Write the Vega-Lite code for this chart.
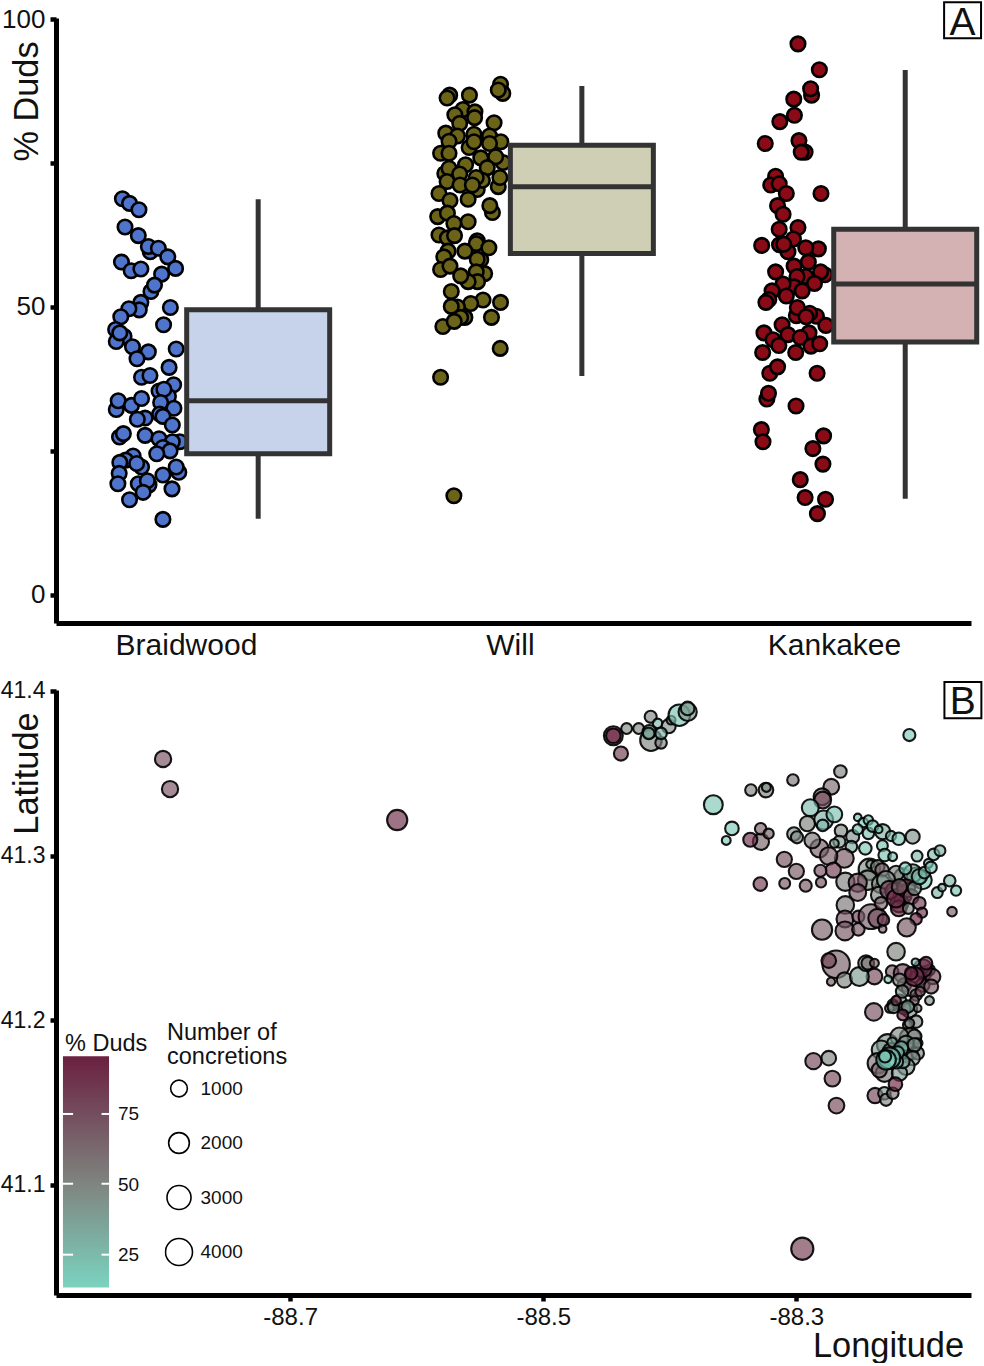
{
"$schema":"https://vega.github.io/schema/vega-lite/v6.json",
"padding":{"left":0,"top":1,"right":0,"bottom":0},
"background":"white",
"config":{"font":"Liberation Sans","view":{"stroke":null},
"axis":{"grid":false,"domainColor":"black","domainWidth":5,"tickColor":"black","tickWidth":4.5,"tickSize":6,"labelColor":"#111","titleColor":"#111","titleFontWeight":"normal","labelOverlap":false,"labelBound":false,"labelFlush":false}},
"datasets":{
"duds":[
{"site":"Braidwood","pos":0.807,"duds":68.8},{"site":"Braidwood","pos":0.829,"duds":68.0},{"site":"Braidwood","pos":0.858,"duds":66.9},{"site":"Braidwood","pos":0.815,"duds":63.9},{"site":"Braidwood","pos":0.856,"duds":62.4},{"site":"Braidwood","pos":0.893,"duds":59.6},{"site":"Braidwood","pos":0.887,"duds":60.5},{"site":"Braidwood","pos":0.918,"duds":60.2},{"site":"Braidwood","pos":0.947,"duds":58.7},{"site":"Braidwood","pos":0.804,"duds":57.8},{"site":"Braidwood","pos":0.834,"duds":56.3},{"site":"Braidwood","pos":0.864,"duds":56.6},{"site":"Braidwood","pos":0.971,"duds":56.7},{"site":"Braidwood","pos":0.928,"duds":55.7},{"site":"Braidwood","pos":0.895,"duds":52.7},{"site":"Braidwood","pos":0.906,"duds":53.8},{"site":"Braidwood","pos":0.864,"duds":50.8},{"site":"Braidwood","pos":0.859,"duds":49.5},{"site":"Braidwood","pos":0.827,"duds":49.7},{"site":"Braidwood","pos":0.955,"duds":49.9},{"site":"Braidwood","pos":0.802,"duds":48.3},{"site":"Braidwood","pos":0.934,"duds":46.9},{"site":"Braidwood","pos":0.786,"duds":46.1},{"site":"Braidwood","pos":0.812,"duds":44.9},{"site":"Braidwood","pos":0.788,"duds":44.0},{"site":"Braidwood","pos":0.799,"duds":45.5},{"site":"Braidwood","pos":0.838,"duds":43.1},{"site":"Braidwood","pos":0.887,"duds":42.2},{"site":"Braidwood","pos":0.973,"duds":42.7},{"site":"Braidwood","pos":0.852,"duds":41.0},{"site":"Braidwood","pos":0.951,"duds":39.5},{"site":"Braidwood","pos":0.866,"duds":37.8},{"site":"Braidwood","pos":0.892,"duds":38.1},{"site":"Braidwood","pos":0.965,"duds":36.5},{"site":"Braidwood","pos":0.920,"duds":35.4},{"site":"Braidwood","pos":0.949,"duds":34.5},{"site":"Braidwood","pos":0.935,"duds":35.7},{"site":"Braidwood","pos":0.788,"duds":32.2},{"site":"Braidwood","pos":0.794,"duds":33.7},{"site":"Braidwood","pos":0.835,"duds":32.9},{"site":"Braidwood","pos":0.866,"duds":34.1},{"site":"Braidwood","pos":0.925,"duds":33.4},{"site":"Braidwood","pos":0.966,"duds":32.4},{"site":"Braidwood","pos":0.922,"duds":31.4},{"site":"Braidwood","pos":0.932,"duds":31.0},{"site":"Braidwood","pos":0.877,"duds":30.7},{"site":"Braidwood","pos":0.853,"duds":30.5},{"site":"Braidwood","pos":0.961,"duds":29.5},{"site":"Braidwood","pos":0.798,"duds":27.4},{"site":"Braidwood","pos":0.810,"duds":28.0},{"site":"Braidwood","pos":0.877,"duds":27.7},{"site":"Braidwood","pos":0.920,"duds":27.1},{"site":"Braidwood","pos":0.984,"duds":26.6},{"site":"Braidwood","pos":0.961,"duds":26.6},{"site":"Braidwood","pos":0.932,"duds":25.6},{"site":"Braidwood","pos":0.954,"duds":25.0},{"site":"Braidwood","pos":0.913,"duds":24.5},{"site":"Braidwood","pos":0.840,"duds":24.1},{"site":"Braidwood","pos":0.817,"duds":23.4},{"site":"Braidwood","pos":0.866,"duds":22.2},{"site":"Braidwood","pos":0.799,"duds":23.0},{"site":"Braidwood","pos":0.851,"duds":22.8},{"site":"Braidwood","pos":0.797,"duds":21.1},{"site":"Braidwood","pos":0.932,"duds":20.8},{"site":"Braidwood","pos":0.981,"duds":21.3},{"site":"Braidwood","pos":0.973,"duds":22.2},{"site":"Braidwood","pos":0.793,"duds":19.3},{"site":"Braidwood","pos":0.856,"duds":19.3},{"site":"Braidwood","pos":0.889,"duds":19.1},{"site":"Braidwood","pos":0.884,"duds":19.8},{"site":"Braidwood","pos":0.871,"duds":17.8},{"site":"Braidwood","pos":0.960,"duds":18.4},{"site":"Braidwood","pos":0.829,"duds":16.5},{"site":"Braidwood","pos":0.932,"duds":13.1},
{"site":"Will","pos":1.974,"duds":88.7},{"site":"Will","pos":1.981,"duds":87.1},{"site":"Will","pos":1.967,"duds":87.7},{"site":"Will","pos":1.817,"duds":86.8},{"site":"Will","pos":1.809,"duds":86.3},{"site":"Will","pos":1.878,"duds":86.8},{"site":"Will","pos":1.858,"duds":84.3},{"site":"Will","pos":1.833,"duds":83.4},{"site":"Will","pos":1.895,"duds":83.9},{"site":"Will","pos":1.894,"duds":82.9},{"site":"Will","pos":1.848,"duds":81.9},{"site":"Will","pos":1.954,"duds":82.0},{"site":"Will","pos":1.805,"duds":80.2},{"site":"Will","pos":1.841,"duds":79.7},{"site":"Will","pos":1.892,"duds":80.0},{"site":"Will","pos":1.940,"duds":79.7},{"site":"Will","pos":1.877,"duds":77.7},{"site":"Will","pos":1.815,"duds":78.8},{"site":"Will","pos":1.892,"duds":78.7},{"site":"Will","pos":1.975,"duds":78.7},{"site":"Will","pos":1.940,"duds":78.4},{"site":"Will","pos":1.789,"duds":76.7},{"site":"Will","pos":1.815,"duds":76.7},{"site":"Will","pos":1.982,"duds":75.1},{"site":"Will","pos":1.913,"duds":75.9},{"site":"Will","pos":1.959,"duds":76.1},{"site":"Will","pos":1.866,"duds":74.7},{"site":"Will","pos":1.933,"duds":74.2},{"site":"Will","pos":1.802,"duds":73.2},{"site":"Will","pos":1.815,"duds":74.1},{"site":"Will","pos":1.848,"duds":73.1},{"site":"Will","pos":1.902,"duds":70.4},{"site":"Will","pos":1.918,"duds":72.0},{"site":"Will","pos":1.899,"duds":72.5},{"site":"Will","pos":1.967,"duds":70.9},{"site":"Will","pos":1.972,"duds":72.5},{"site":"Will","pos":1.809,"duds":71.8},{"site":"Will","pos":1.849,"duds":71.2},{"site":"Will","pos":1.887,"duds":71.2},{"site":"Will","pos":1.784,"duds":69.7},{"site":"Will","pos":1.874,"duds":68.7},{"site":"Will","pos":1.818,"duds":68.5},{"site":"Will","pos":1.949,"duds":66.4},{"site":"Will","pos":1.941,"duds":67.6},{"site":"Will","pos":1.780,"duds":65.7},{"site":"Will","pos":1.810,"duds":66.3},{"site":"Will","pos":1.874,"duds":64.8},{"site":"Will","pos":1.830,"duds":64.5},{"site":"Will","pos":1.784,"duds":62.5},{"site":"Will","pos":1.810,"duds":62.0},{"site":"Will","pos":1.832,"duds":62.4},{"site":"Will","pos":1.902,"duds":61.5},{"site":"Will","pos":1.899,"duds":61.0},{"site":"Will","pos":1.938,"duds":60.3},{"site":"Will","pos":1.812,"duds":59.7},{"site":"Will","pos":1.864,"duds":59.7},{"site":"Will","pos":1.799,"duds":58.7},{"site":"Will","pos":1.913,"duds":58.2},{"site":"Will","pos":1.902,"duds":58.3},{"site":"Will","pos":1.789,"duds":56.5},{"site":"Will","pos":1.818,"duds":57.1},{"site":"Will","pos":1.925,"duds":55.8},{"site":"Will","pos":1.899,"duds":56.1},{"site":"Will","pos":1.903,"duds":54.4},{"site":"Will","pos":1.874,"duds":54.4},{"site":"Will","pos":1.851,"duds":55.4},{"site":"Will","pos":1.822,"duds":52.7},{"site":"Will","pos":1.920,"duds":51.2},{"site":"Will","pos":1.882,"duds":50.6},{"site":"Will","pos":1.974,"duds":50.8},{"site":"Will","pos":1.841,"duds":50.0},{"site":"Will","pos":1.822,"duds":50.1},{"site":"Will","pos":1.864,"duds":48.2},{"site":"Will","pos":1.851,"duds":48.2},{"site":"Will","pos":1.946,"duds":48.2},{"site":"Will","pos":1.796,"duds":46.6},{"site":"Will","pos":1.831,"duds":47.5},{"site":"Will","pos":1.973,"duds":42.8},{"site":"Will","pos":1.789,"duds":37.8},{"site":"Will","pos":1.830,"duds":17.2},
{"site":"Kankakee","pos":2.892,"duds":95.7},{"site":"Kankakee","pos":2.958,"duds":91.2},{"site":"Kankakee","pos":2.934,"duds":86.8},{"site":"Kankakee","pos":2.931,"duds":87.9},{"site":"Kankakee","pos":2.879,"duds":86.1},{"site":"Kankakee","pos":2.881,"duds":83.3},{"site":"Kankakee","pos":2.836,"duds":82.2},{"site":"Kankakee","pos":2.791,"duds":78.4},{"site":"Kankakee","pos":2.895,"duds":78.9},{"site":"Kankakee","pos":2.914,"duds":76.9},{"site":"Kankakee","pos":2.902,"duds":76.9},{"site":"Kankakee","pos":2.823,"duds":72.7},{"site":"Kankakee","pos":2.808,"duds":71.2},{"site":"Kankakee","pos":2.834,"duds":71.4},{"site":"Kankakee","pos":2.856,"duds":69.7},{"site":"Kankakee","pos":2.963,"duds":69.7},{"site":"Kankakee","pos":2.829,"duds":67.6},{"site":"Kankakee","pos":2.846,"duds":66.1},{"site":"Kankakee","pos":2.834,"duds":63.5},{"site":"Kankakee","pos":2.892,"duds":63.8},{"site":"Kankakee","pos":2.878,"duds":61.8},{"site":"Kankakee","pos":2.780,"duds":60.7},{"site":"Kankakee","pos":2.861,"duds":59.6},{"site":"Kankakee","pos":2.835,"duds":60.8},{"site":"Kankakee","pos":2.848,"duds":60.9},{"site":"Kankakee","pos":2.955,"duds":60.1},{"site":"Kankakee","pos":2.916,"duds":60.3},{"site":"Kankakee","pos":2.924,"duds":57.8},{"site":"Kankakee","pos":2.880,"duds":57.1},{"site":"Kankakee","pos":2.823,"duds":56.1},{"site":"Kankakee","pos":2.975,"duds":55.6},{"site":"Kankakee","pos":2.962,"duds":56.1},{"site":"Kankakee","pos":2.916,"duds":55.3},{"site":"Kankakee","pos":2.889,"duds":55.3},{"site":"Kankakee","pos":2.880,"duds":53.5},{"site":"Kankakee","pos":2.846,"duds":54.0},{"site":"Kankakee","pos":2.943,"duds":54.1},{"site":"Kankakee","pos":2.905,"duds":52.8},{"site":"Kankakee","pos":2.812,"duds":52.8},{"site":"Kankakee","pos":2.802,"duds":51.3},{"site":"Kankakee","pos":2.793,"duds":50.8},{"site":"Kankakee","pos":2.856,"duds":51.9},{"site":"Kankakee","pos":2.887,"duds":48.5},{"site":"Kankakee","pos":2.890,"duds":49.9},{"site":"Kankakee","pos":2.949,"duds":48.4},{"site":"Kankakee","pos":2.928,"duds":48.9},{"site":"Kankakee","pos":2.917,"duds":48.3},{"site":"Kankakee","pos":2.978,"duds":46.8},{"site":"Kankakee","pos":2.843,"duds":46.9},{"site":"Kankakee","pos":2.787,"duds":45.5},{"site":"Kankakee","pos":2.815,"duds":44.3},{"site":"Kankakee","pos":2.861,"duds":45.2},{"site":"Kankakee","pos":2.926,"duds":45.5},{"site":"Kankakee","pos":2.899,"duds":44.7},{"site":"Kankakee","pos":2.833,"duds":43.3},{"site":"Kankakee","pos":2.932,"duds":43.2},{"site":"Kankakee","pos":2.959,"duds":43.6},{"site":"Kankakee","pos":2.783,"duds":42.1},{"site":"Kankakee","pos":2.885,"duds":42.1},{"site":"Kankakee","pos":2.805,"duds":38.5},{"site":"Kankakee","pos":2.829,"duds":39.6},{"site":"Kankakee","pos":2.951,"duds":38.5},{"site":"Kankakee","pos":2.796,"duds":34.0},{"site":"Kankakee","pos":2.801,"duds":35.0},{"site":"Kankakee","pos":2.886,"duds":32.8},{"site":"Kankakee","pos":2.779,"duds":28.7},{"site":"Kankakee","pos":2.784,"duds":26.6},{"site":"Kankakee","pos":2.971,"duds":27.6},{"site":"Kankakee","pos":2.938,"duds":25.4},{"site":"Kankakee","pos":2.969,"duds":22.7},{"site":"Kankakee","pos":2.899,"duds":20.0},{"site":"Kankakee","pos":2.914,"duds":16.9},{"site":"Kankakee","pos":2.977,"duds":16.6},{"site":"Kankakee","pos":2.952,"duds":14.1}
],
"boxes":[
{"site":"Braidwood","pos":1.226,"low":13.2,"q1":24.5,"median":33.7,"q3":49.5,"high":68.7},
{"site":"Will","pos":2.225,"low":38.0,"q1":59.3,"median":70.9,"q3":78.1,"high":88.4},
{"site":"Kankakee","pos":3.223,"low":16.7,"q1":43.9,"median":54.0,"q3":63.5,"high":91.15}
],
"labelA":[{"label":"A","x0":3.343,"x1":3.457,"y0":96.7,"y1":102.95,"xc":3.4,"yc":97.2}],
"labelB":[{"label":"B","x0":-88.183,"x1":-88.1538,"y0":41.3835,"y1":41.4054,"xc":-88.1685,"yc":41.386}],
"colorBar":[{"lon0":-88.8795,"lon1":-88.8431,"lat0":41.0375,"lat1":41.178}],
"barTicks":[
{"lon0":-88.8795,"lon1":-88.8715,"lat":41.143},{"lon0":-88.849,"lon1":-88.8431,"lat":41.143},
{"lon0":-88.8795,"lon1":-88.8715,"lat":41.1006},{"lon0":-88.849,"lon1":-88.8431,"lat":41.1006},
{"lon0":-88.8795,"lon1":-88.8715,"lat":41.0575},{"lon0":-88.849,"lon1":-88.8431,"lat":41.0575}
],
"concretions":[
{"lon":-88.8004,"lat":41.3587,"n":930,"pct":75},{"lon":-88.7949,"lat":41.3404,"n":930,"pct":75},{"lon":-88.6154,"lat":41.3216,"n":1860,"pct":92},{"lon":-88.2953,"lat":41.0611,"n":2420,"pct":85},
{"lon":-88.4446,"lat":41.3728,"n":1520,"pct":90},{"lon":-88.4446,"lat":41.3728,"n":685,"pct":94},{"lon":-88.4386,"lat":41.362,"n":610,"pct":85},{"lon":-88.4341,"lat":41.3772,"n":240,"pct":50},{"lon":-88.4246,"lat":41.3772,"n":240,"pct":50},{"lon":-88.4151,"lat":41.3843,"n":350,"pct":50},{"lon":-88.4096,"lat":41.3803,"n":145,"pct":25},{"lon":-88.4149,"lat":41.3701,"n":2220,"pct":50},{"lon":-88.4162,"lat":41.3752,"n":540,"pct":35},{"lon":-88.4167,"lat":41.3742,"n":295,"pct":35},{"lon":-88.4069,"lat":41.3685,"n":295,"pct":52},{"lon":-88.4009,"lat":41.3786,"n":610,"pct":45},{"lon":-88.399,"lat":41.3823,"n":100,"pct":45},{"lon":-88.3925,"lat":41.3853,"n":2220,"pct":22},{"lon":-88.3859,"lat":41.3873,"n":1350,"pct":45},{"lon":-88.3859,"lat":41.3894,"n":540,"pct":35},{"lon":-88.4069,"lat":41.3742,"n":295,"pct":30},
{"lon":-88.2107,"lat":41.3732,"n":350,"pct":18},{"lon":-88.2652,"lat":41.3511,"n":410,"pct":52},{"lon":-88.3027,"lat":41.3459,"n":295,"pct":58},{"lon":-88.3359,"lat":41.3398,"n":295,"pct":52},{"lon":-88.324,"lat":41.3398,"n":685,"pct":52},{"lon":-88.3237,"lat":41.3414,"n":100,"pct":45},{"lon":-88.2724,"lat":41.3418,"n":845,"pct":62},{"lon":-88.2797,"lat":41.3357,"n":1040,"pct":68},{"lon":-88.2792,"lat":41.3337,"n":1040,"pct":75},{"lon":-88.3656,"lat":41.3309,"n":1520,"pct":20},{"lon":-88.2784,"lat":41.3216,"n":1520,"pct":30},{"lon":-88.289,"lat":41.3291,"n":1040,"pct":25},{"lon":-88.27,"lat":41.325,"n":845,"pct":22},{"lon":-88.2913,"lat":41.3194,"n":770,"pct":52},{"lon":-88.2792,"lat":41.3183,"n":295,"pct":25},{"lon":-88.3509,"lat":41.3165,"n":540,"pct":18},{"lon":-88.3554,"lat":41.3092,"n":100,"pct":18},{"lon":-88.328,"lat":41.3084,"n":930,"pct":66},{"lon":-88.3282,"lat":41.3163,"n":295,"pct":68},{"lon":-88.3364,"lat":41.3096,"n":610,"pct":90},{"lon":-88.3219,"lat":41.3133,"n":190,"pct":68},{"lon":-88.3019,"lat":41.3131,"n":540,"pct":45},{"lon":-88.2995,"lat":41.3111,"n":350,"pct":48},{"lon":-88.2818,"lat":41.3044,"n":1350,"pct":68},{"lon":-88.2874,"lat":41.3092,"n":845,"pct":58},{"lon":-88.2647,"lat":41.3151,"n":410,"pct":48},{"lon":-88.2555,"lat":41.3115,"n":475,"pct":45},{"lon":-88.266,"lat":41.3084,"n":350,"pct":40},{"lon":-88.27,"lat":41.3074,"n":100,"pct":42},{"lon":-88.2565,"lat":41.3054,"n":295,"pct":32},{"lon":-88.2515,"lat":41.3232,"n":26,"pct":22},{"lon":-88.2471,"lat":41.32,"n":145,"pct":18},{"lon":-88.2431,"lat":41.3216,"n":145,"pct":20},{"lon":-88.2515,"lat":41.3159,"n":190,"pct":22},{"lon":-88.2431,"lat":41.3135,"n":295,"pct":22},{"lon":-88.2318,"lat":41.3145,"n":770,"pct":30},{"lon":-88.2397,"lat":41.3179,"n":295,"pct":20},{"lon":-88.2349,"lat":41.3159,"n":26,"pct":22},{"lon":-88.2252,"lat":41.3119,"n":190,"pct":28},{"lon":-88.2191,"lat":41.3102,"n":410,"pct":20},{"lon":-88.2081,"lat":41.3115,"n":610,"pct":45},{"lon":-88.2455,"lat":41.3044,"n":410,"pct":20},{"lon":-88.232,"lat":41.306,"n":240,"pct":22},{"lon":-88.2302,"lat":41.3003,"n":410,"pct":22},{"lon":-88.2239,"lat":41.2993,"n":100,"pct":22},{"lon":-88.2046,"lat":41.2997,"n":240,"pct":25},{"lon":-88.1915,"lat":41.3007,"n":295,"pct":25},{"lon":-88.1865,"lat":41.303,"n":240,"pct":30},
{"lon":-88.2621,"lat":41.2983,"n":1520,"pct":72},{"lon":-88.2745,"lat":41.2997,"n":1190,"pct":68},{"lon":-88.2708,"lat":41.2912,"n":770,"pct":85},{"lon":-88.281,"lat":41.2908,"n":350,"pct":75},{"lon":-88.3095,"lat":41.2977,"n":770,"pct":75},{"lon":-88.3,"lat":41.2904,"n":770,"pct":72},{"lon":-88.3285,"lat":41.2827,"n":540,"pct":85},{"lon":-88.3092,"lat":41.2831,"n":240,"pct":72},{"lon":-88.2926,"lat":41.2817,"n":350,"pct":72},{"lon":-88.2805,"lat":41.2837,"n":190,"pct":75},{"lon":-88.2423,"lat":41.2916,"n":2220,"pct":45},{"lon":-88.2415,"lat":41.2947,"n":60,"pct":40},{"lon":-88.2357,"lat":41.2932,"n":540,"pct":50},{"lon":-88.2323,"lat":41.2912,"n":540,"pct":66},{"lon":-88.2613,"lat":41.2841,"n":1350,"pct":52},{"lon":-88.2436,"lat":41.2851,"n":1680,"pct":48},{"lon":-88.2515,"lat":41.2835,"n":1350,"pct":75},{"lon":-88.2515,"lat":41.2775,"n":1040,"pct":72},{"lon":-88.2331,"lat":41.2827,"n":1350,"pct":45},{"lon":-88.2344,"lat":41.276,"n":1040,"pct":50},{"lon":-88.216,"lat":41.2872,"n":1040,"pct":45},{"lon":-88.2212,"lat":41.2892,"n":770,"pct":50},{"lon":-88.2291,"lat":41.2851,"n":1350,"pct":45},{"lon":-88.2054,"lat":41.2872,"n":1350,"pct":30},{"lon":-88.2002,"lat":41.2851,"n":1350,"pct":20},{"lon":-88.2081,"lat":41.2892,"n":1350,"pct":35},{"lon":-88.2226,"lat":41.2781,"n":1350,"pct":75},{"lon":-88.216,"lat":41.276,"n":1350,"pct":90},{"lon":-88.2186,"lat":41.271,"n":1350,"pct":90},{"lon":-88.2191,"lat":41.2679,"n":845,"pct":90},{"lon":-88.2265,"lat":41.2791,"n":1350,"pct":80},{"lon":-88.2212,"lat":41.274,"n":1350,"pct":92},{"lon":-88.2133,"lat":41.2801,"n":1350,"pct":85},{"lon":-88.2094,"lat":41.275,"n":770,"pct":78},{"lon":-88.2186,"lat":41.2811,"n":770,"pct":66},{"lon":-88.2067,"lat":41.2801,"n":540,"pct":45},{"lon":-88.2115,"lat":41.2679,"n":240,"pct":50},{"lon":-88.2028,"lat":41.271,"n":410,"pct":85},{"lon":-88.2007,"lat":41.2653,"n":190,"pct":90},{"lon":-88.2054,"lat":41.2615,"n":295,"pct":94},{"lon":-88.2028,"lat":41.2872,"n":770,"pct":22},{"lon":-88.1988,"lat":41.2896,"n":295,"pct":28},{"lon":-88.1957,"lat":41.2953,"n":100,"pct":25},{"lon":-88.1936,"lat":41.2928,"n":295,"pct":22},{"lon":-88.2139,"lat":41.2922,"n":350,"pct":18},{"lon":-88.1886,"lat":41.2775,"n":240,"pct":28},{"lon":-88.1849,"lat":41.2805,"n":26,"pct":30},{"lon":-88.1788,"lat":41.2847,"n":295,"pct":28},{"lon":-88.1738,"lat":41.2787,"n":190,"pct":22},{"lon":-88.177,"lat":41.2659,"n":145,"pct":68},{"lon":-88.2613,"lat":41.27,"n":1190,"pct":58},{"lon":-88.2616,"lat":41.2615,"n":1040,"pct":75},{"lon":-88.251,"lat":41.2629,"n":350,"pct":85},{"lon":-88.2797,"lat":41.255,"n":1860,"pct":68},{"lon":-88.2616,"lat":41.2542,"n":1520,"pct":72},{"lon":-88.251,"lat":41.2552,"n":410,"pct":72},{"lon":-88.241,"lat":41.2629,"n":3230,"pct":68},{"lon":-88.2357,"lat":41.2619,"n":1520,"pct":75},{"lon":-88.2312,"lat":41.2609,"n":295,"pct":80},{"lon":-88.2318,"lat":41.2554,"n":26,"pct":66},{"lon":-88.2128,"lat":41.2564,"n":1350,"pct":72},{"lon":-88.2331,"lat":41.271,"n":410,"pct":66},{"lon":-88.2212,"lat":41.2416,"n":1190,"pct":52},
{"lon":-88.2686,"lat":41.234,"n":4180,"pct":68},{"lon":-88.2744,"lat":41.2362,"n":685,"pct":80},{"lon":-88.2726,"lat":41.2234,"n":60,"pct":68},{"lon":-88.262,"lat":41.2244,"n":770,"pct":50},{"lon":-88.2383,"lat":41.2265,"n":845,"pct":78},{"lon":-88.2502,"lat":41.2265,"n":1520,"pct":40},{"lon":-88.2449,"lat":41.2346,"n":845,"pct":52},{"lon":-88.2436,"lat":41.2346,"n":410,"pct":58},{"lon":-88.2383,"lat":41.2346,"n":100,"pct":68},{"lon":-88.2243,"lat":41.2295,"n":410,"pct":72},{"lon":-88.2275,"lat":41.2248,"n":26,"pct":20},{"lon":-88.2159,"lat":41.2285,"n":1350,"pct":78},{"lon":-88.2041,"lat":41.2255,"n":1040,"pct":90},{"lon":-88.1988,"lat":41.2285,"n":610,"pct":90},{"lon":-88.1948,"lat":41.2305,"n":240,"pct":78},{"lon":-88.2146,"lat":41.2214,"n":540,"pct":85},{"lon":-88.2106,"lat":41.2194,"n":770,"pct":66},{"lon":-88.2001,"lat":41.2214,"n":540,"pct":75},{"lon":-88.1922,"lat":41.2265,"n":770,"pct":80},{"lon":-88.2054,"lat":41.2153,"n":295,"pct":66},{"lon":-88.2185,"lat":41.2113,"n":610,"pct":50},{"lon":-88.2106,"lat":41.2062,"n":770,"pct":45},{"lon":-88.2146,"lat":41.2072,"n":410,"pct":78},{"lon":-88.2238,"lat":41.2093,"n":240,"pct":66},{"lon":-88.2001,"lat":41.2315,"n":1350,"pct":85},{"lon":-88.2067,"lat":41.2265,"n":1520,"pct":92},{"lon":-88.2093,"lat":41.2285,"n":410,"pct":94},{"lon":-88.1975,"lat":41.2346,"n":410,"pct":90},{"lon":-88.2059,"lat":41.2352,"n":26,"pct":25},{"lon":-88.2185,"lat":41.2244,"n":475,"pct":50},{"lon":-88.1935,"lat":41.2204,"n":610,"pct":72},{"lon":-88.2164,"lat":41.2174,"n":410,"pct":45},{"lon":-88.2022,"lat":41.2174,"n":145,"pct":78},{"lon":-88.1948,"lat":41.2119,"n":100,"pct":45},{"lon":-88.2067,"lat":41.2119,"n":100,"pct":68},{"lon":-88.2388,"lat":41.205,"n":1190,"pct":75},{"lon":-88.2264,"lat":41.2072,"n":100,"pct":50},{"lon":-88.2233,"lat":41.2078,"n":295,"pct":45},{"lon":-88.2212,"lat":41.2119,"n":145,"pct":85},{"lon":-88.212,"lat":41.2082,"n":410,"pct":35},{"lon":-88.2159,"lat":41.2032,"n":240,"pct":90},{"lon":-88.2041,"lat":41.2072,"n":26,"pct":58},{"lon":-88.2054,"lat":41.1991,"n":410,"pct":50},{"lon":-88.212,"lat":41.1971,"n":145,"pct":50},{"lon":-88.2106,"lat":41.1981,"n":145,"pct":52},
{"lon":-88.2101,"lat":41.189,"n":2050,"pct":50},{"lon":-88.2278,"lat":41.185,"n":2220,"pct":45},{"lon":-88.2185,"lat":41.19,"n":1350,"pct":48},{"lon":-88.2067,"lat":41.19,"n":610,"pct":52},{"lon":-88.233,"lat":41.1819,"n":1520,"pct":40},{"lon":-88.2357,"lat":41.1738,"n":1860,"pct":60},{"lon":-88.2251,"lat":41.1809,"n":1040,"pct":40},{"lon":-88.2146,"lat":41.1799,"n":1350,"pct":38},{"lon":-88.2106,"lat":41.1809,"n":1040,"pct":45},{"lon":-88.2041,"lat":41.1799,"n":410,"pct":50},{"lon":-88.2041,"lat":41.186,"n":145,"pct":40},{"lon":-88.2243,"lat":41.1866,"n":145,"pct":35},{"lon":-88.2133,"lat":41.186,"n":770,"pct":40},{"lon":-88.2067,"lat":41.185,"n":540,"pct":45},{"lon":-88.208,"lat":41.1769,"n":610,"pct":45},{"lon":-88.2133,"lat":41.1718,"n":1040,"pct":42},{"lon":-88.2304,"lat":41.1678,"n":1190,"pct":58},{"lon":-88.2344,"lat":41.1698,"n":770,"pct":62},{"lon":-88.2185,"lat":41.1678,"n":770,"pct":40},{"lon":-88.2159,"lat":41.1749,"n":540,"pct":35},{"lon":-88.2172,"lat":41.1829,"n":610,"pct":28},{"lon":-88.2212,"lat":41.1749,"n":610,"pct":25},{"lon":-88.2199,"lat":41.1803,"n":410,"pct":25},{"lon":-88.2264,"lat":41.1769,"n":2220,"pct":18},{"lon":-88.2291,"lat":41.1759,"n":1680,"pct":15},{"lon":-88.2299,"lat":41.1779,"n":350,"pct":22},{"lon":-88.2744,"lat":41.1769,"n":685,"pct":52},{"lon":-88.2865,"lat":41.1751,"n":930,"pct":80},{"lon":-88.2715,"lat":41.1645,"n":845,"pct":78},{"lon":-88.2683,"lat":41.1481,"n":845,"pct":78},{"lon":-88.2378,"lat":41.1542,"n":770,"pct":80},{"lon":-88.2304,"lat":41.1556,"n":410,"pct":45},{"lon":-88.2291,"lat":41.1516,"n":350,"pct":50},{"lon":-88.2238,"lat":41.1556,"n":295,"pct":58},{"lon":-88.2217,"lat":41.1611,"n":540,"pct":94}
]
},
"vconcat":[
{"width":915,"height":605,
"layer":[
{"data":{"name":"duds"},
"mark":{"type":"circle","stroke":"black","strokeWidth":2.6,"opacity":1,"size":210},
"encoding":{
"x":{"field":"pos","type":"quantitative","scale":{"domain":[0.602,3.426],"nice":false,"padding":0},
"axis":{"title":null,"values":[1,2,3],"labelExpr":"datum.value == 1 ? 'Braidwood' : datum.value == 2 ? 'Will' : 'Kankakee'","labelFontSize":30,"tickSize":0,"labelPadding":7,"labelOffset":1}},
"y":{"field":"duds","type":"quantitative","scale":{"domain":[-4.9,100.2],"nice":false},
"axis":{"title":"% Duds","values":[0,25,50,75,100],"labelExpr":"datum.value % 50 == 0 ? datum.label : ''","labelFontSize":26,"labelPadding":5,"titleFontSize":34.3,"titleX":-29,"titleY":83,"titleAngle":-90,"titleAlign":"center","titleBaseline":"middle"}},
"fill":{"field":"site","type":"nominal","scale":{"domain":["Braidwood","Will","Kankakee"],"range":["#4f74cb","#6b6418","#8a0a16"]},"legend":null}}},
{"data":{"name":"boxes"},
"mark":{"type":"rule","color":"#333333","strokeWidth":5},
"encoding":{"x":{"field":"pos","type":"quantitative"},"y":{"field":"low","type":"quantitative"},"y2":{"field":"high"}}},
{"data":{"name":"boxes"},
"mark":{"type":"bar","orient":"vertical","width":143,"stroke":"#333333","strokeWidth":5},
"encoding":{"x":{"field":"pos","type":"quantitative"},"y":{"field":"q1","type":"quantitative"},"y2":{"field":"q3"},
"color":{"field":"site","type":"nominal","scale":{"domain":["Braidwood","Will","Kankakee"],"range":["#c7d3ea","#cfcfb5","#d4b1b3"]},"legend":null}}},
{"data":{"name":"boxes"},
"mark":{"type":"tick","orient":"horizontal","size":143,"thickness":5,"color":"#333333","opacity":1},
"encoding":{"x":{"field":"pos","type":"quantitative"},"y":{"field":"median","type":"quantitative"}}},
{"data":{"name":"labelA"},
"mark":{"type":"rect","fill":"white","stroke":"black","strokeWidth":2},
"encoding":{"x":{"field":"x0","type":"quantitative"},"x2":{"field":"x1"},"y":{"field":"y0","type":"quantitative"},"y2":{"field":"y1"}}},
{"data":{"name":"labelA"},
"mark":{"type":"text","fontSize":39,"color":"#111","align":"center","baseline":"alphabetic"},
"encoding":{"x":{"field":"xc","type":"quantitative"},"y":{"field":"yc","type":"quantitative"},"text":{"field":"label"}}}
],
"resolve":{"scale":{"fill":"independent","color":"independent"}}},
{"width":915,"height":605,
"layer":[
{"data":{"name":"concretions"},
"mark":{"type":"circle","stroke":"black","strokeWidth":2.1,"fillOpacity":0.65,"strokeOpacity":0.9},
"encoding":{
"x":{"field":"lon","type":"quantitative","scale":{"domain":[-88.885,-88.162],"nice":false},
"axis":{"title":"Longitude","values":[-88.7,-88.5,-88.3],"labelExpr":"'-' + format(abs(datum.value), '.1f')","labelFontSize":24,"labelPadding":4,"titleFontSize":34.4,"titleX":832,"titleY":51,"titleAlign":"center","titleBaseline":"middle"}},
"y":{"field":"lat","type":"quantitative","scale":{"domain":[41.033,41.4006],"nice":false},
"axis":{"title":"Latitude","values":[41.1,41.2,41.3,41.4],"format":".1f","labelFontSize":23,"labelPadding":5,"titleFontSize":34.4,"titleX":-28.5,"titleY":83,"titleAngle":-90,"titleAlign":"center","titleBaseline":"middle"}},
"fill":{"field":"pct","type":"quantitative","scale":{"domain":[13.3,50,95.4],"range":["#7bd3c0","#7f8580","#6b2040"],"interpolate":"rgb"},
"legend":{"title":"% Duds","orient":"none","legendX":9,"legendY":1014,"type":"gradient","direction":"vertical","gradientLength":232,"gradientThickness":46,"gradientOpacity":0,"values":[25,50,75],"labelFontSize":19,"labelOffset":7,"titleFontSize":23.5,"titleFontWeight":"normal","titlePadding":1,"labelColor":"#111","titleColor":"#111"}},
"size":{"field":"n","type":"quantitative","scale":{"domain":[0,300,1000,4000],"range":[50,135,279,729]},
"legend":{"title":["Number of","concretions"],"orient":"none","legendX":108.5,"legendY":1003,"values":[1000,2000,3000,4000],"format":"d","symbolType":"circle","symbolFillColor":"transparent","symbolStrokeColor":"black","symbolStrokeWidth":1.6,"symbolOpacity":1,"clipHeight":30,"rowPadding":24.5,"labelFontSize":19,"labelOffset":7,"titleFontSize":23.5,"titleFontWeight":"normal","titleLineHeight":24,"titlePadding":5,"labelColor":"#111","titleColor":"#111","encode":{"title":{"update":{"dx":{"value":2.5}}}}}}}},
{"data":{"name":"colorBar"},
"mark":{"type":"rect","fill":{"gradient":"linear","x1":0,"y1":0,"x2":0,"y2":1,"stops":[{"offset":0,"color":"#6b2040"},{"offset":0.553,"color":"#7f8580"},{"offset":1,"color":"#7bd3c0"}]}},
"encoding":{"x":{"field":"lon0","type":"quantitative"},"x2":{"field":"lon1"},"y":{"field":"lat0","type":"quantitative"},"y2":{"field":"lat1"}}},
{"data":{"name":"barTicks"},
"mark":{"type":"rule","color":"white","strokeWidth":2},
"encoding":{"x":{"field":"lon0","type":"quantitative"},"x2":{"field":"lon1"},"y":{"field":"lat","type":"quantitative"}}},
{"data":{"name":"labelB"},
"mark":{"type":"rect","fill":"white","stroke":"black","strokeWidth":2},
"encoding":{"x":{"field":"x0","type":"quantitative"},"x2":{"field":"x1"},"y":{"field":"y0","type":"quantitative"},"y2":{"field":"y1"}}},
{"data":{"name":"labelB"},
"mark":{"type":"text","fontSize":39,"color":"#111","align":"center","baseline":"alphabetic"},
"encoding":{"x":{"field":"xc","type":"quantitative"},"y":{"field":"yc","type":"quantitative"},"text":{"field":"label"}}}
]}
],
"spacing":67,
"bounds":"flush"
}
